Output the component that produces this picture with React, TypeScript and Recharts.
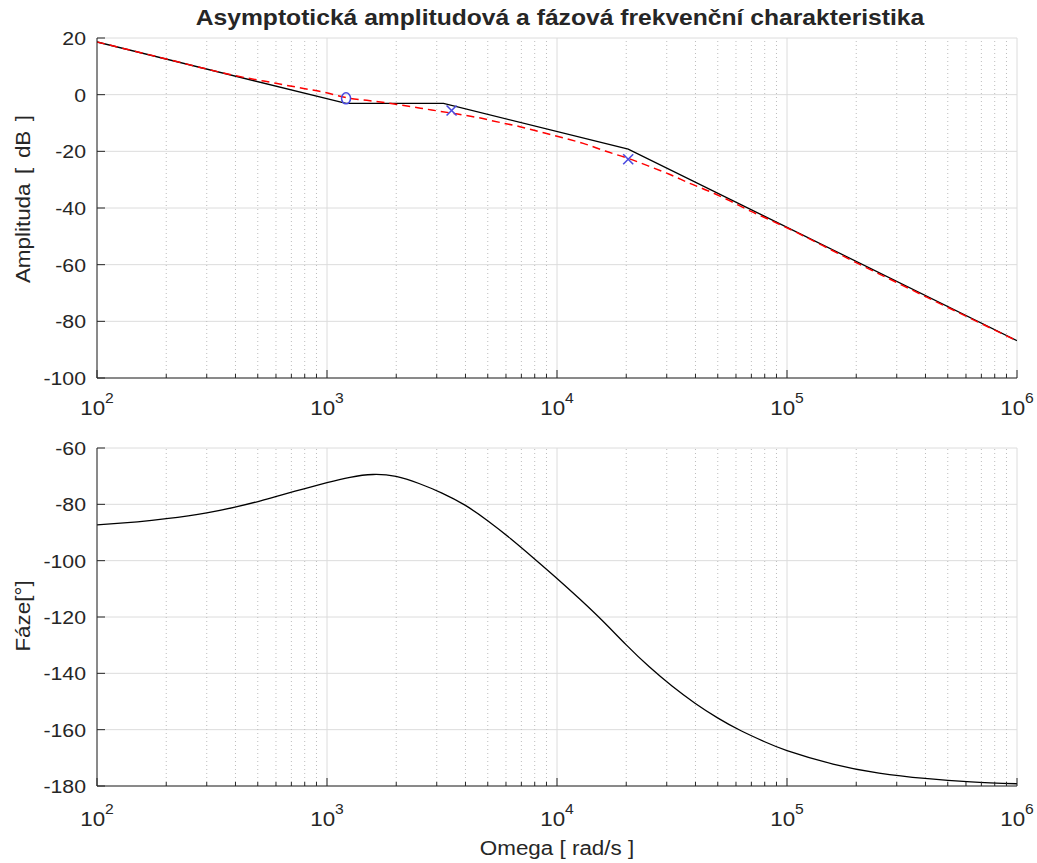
import React from 'react';
import {
    ComposedChart, Line, XAxis, YAxis, CartesianGrid, ReferenceLine,
} from 'recharts';

// omega axis: decades carry labels, the 2..9 multiples are minor ticks
const decades = [1e2, 1e3, 1e4, 1e5, 1e6];
const minorTicks = [1e2, 1e3, 1e4, 1e5].flatMap((d) => [2, 3, 4, 5, 6, 7, 8, 9].map((k) => k * d));
const omegaTicks = [...decades, ...minorTicks].sort((a, b) => a - b);

const ampTicks = [-100, -80, -60, -40, -20, 0, 20];
const phaseTicks = [-180, -160, -140, -120, -100, -80, -60];

// asymptotic magnitude (break points)
const asymOmega = [100, 1210, 3210, 20400, 1000000];
const asymDb = [18.6, -3.1, -3.1, -19.2, -86.8];

// exact magnitude
const exactOmega = [100, 200, 400, 600, 790, 965, 1220, 1490, 1820, 2300, 2850, 3540, 4470, 5650, 6900, 8430,
    10600, 13000, 16200, 20400, 25400, 31000, 37800, 46200, 56500, 69000, 84300, 103000, 149000, 188000, 316000, 1000000];
const exactDb = [18.6, 12.6, 6.7, 4.0, 2.2, 0.9, -1.1, -2.0, -2.9, -4.2, -5.4, -6.6, -8.0, -9.8, -11.3, -13.1,
    -15.2, -17.2, -19.9, -22.5, -25.4, -28.2, -31.3, -34.2, -37.5, -41.0, -44.2, -47.5, -54.0, -58.2, -67.2, -86.9];

// zero (o) and poles (x)
const zeroOmega = [1210];
const zeroDb = [-1.3];
const poleOmega = [3480, 20400];
const poleDb = [-5.6, -22.8];

// phase
const phaseOmega = [100, 150, 200, 300, 398, 501, 631, 794, 1000, 1259, 1585, 1995, 2512, 3162, 3981, 5012, 6310, 7943,
    10000, 12589, 15849, 19953, 25119, 31623, 39811, 50119, 63096, 79433, 100000, 158489, 251189, 398107, 630957, 1000000];
const phaseDeg = [-87.3, -86.2, -85.1, -83.0, -81.0, -79.0, -76.7, -74.5, -72.3, -70.4, -69.4, -70.1, -72.6, -76.0, -80.3, -85.9, -92.3, -99.2,
    -106.3, -113.7, -121.5, -129.8, -137.6, -144.5, -150.6, -155.9, -160.4, -164.2, -167.4, -172.2, -175.4, -177.3, -178.5, -179.2];

const zip = (w: number[], v: number[]) => w.map((x, i) => ({ w: x, v: v[i] }));

const FONT = '"Liberation Sans", Arial, sans-serif';
const INK = '#262626';
const MAJOR_GRID = '#dcdcdc';
const MINOR_GRID = '#bdbdbd';
const STRETCH = 1.12;

const isDecade = (v: number) => decades.includes(v);

const BottomTick = (labelDy: number) => (props: any) => {
    const { x, y, payload } = props;
    const v = payload.value;
    const major = isDecade(v);
    return (
        <g>
            <line x1={x} x2={x} y1={y} y2={y - (major ? 8 : 4)} stroke={INK} />
            {major && (
                <text transform={`translate(${x},${y + labelDy}) scale(${STRETCH},1)`} textAnchor="middle"
                    fill={INK} fontSize={20} fontFamily={FONT}>
                    10<tspan dy={-12} fontSize={14}>{Math.round(Math.log10(v))}</tspan>
                </text>
            )}
        </g>
    );
};

const TopTick = (props: any) => {
    const { x, y, payload } = props;
    const len = isDecade(payload.value) ? 8 : 4;
    return <line x1={x} x2={x} y1={y} y2={y + len} stroke={INK} />;
};

const LeftTick = (props: any) => {
    const { x, y, payload } = props;
    return (
        <g>
            <line x1={x} x2={x + 8} y1={y} y2={y} stroke={INK} />
            <text transform={`translate(${x - 11},${y + 7}) scale(${STRETCH},1)`} textAnchor="end" fill={INK}
                fontSize={19} fontFamily={FONT}>{payload.value}</text>
        </g>
    );
};

const RightTick = (props: any) => {
    const { x, y } = props;
    return <line x1={x} x2={x - 8} y1={y} y2={y} stroke={INK} />;
};

const Circle = (props: any) => {
    const { cx, cy } = props;
    if (cx == null || cy == null) return null;
    return <ellipse cx={cx} cy={cy} rx={4.5} ry={5.5} fill="none" stroke="#4a4ae0" strokeWidth={1.5} />;
};

const Cross = (props: any) => {
    const { cx, cy } = props;
    if (cx == null || cy == null) return null;
    const r = 5;
    return (
        <g stroke="#4a4ae0" strokeWidth={1.6}>
            <line x1={cx - r} y1={cy - r} x2={cx + r} y2={cy + r} />
            <line x1={cx - r} y1={cy + r} x2={cx + r} y2={cy - r} />
        </g>
    );
};

const omegaGrid = omegaTicks.map((v) => (
    <ReferenceLine key={v} x={v} stroke={isDecade(v) ? MAJOR_GRID : MINOR_GRID}
        strokeDasharray={isDecade(v) ? undefined : '1 3'} strokeWidth={1} />
));

const axesFor = (ticks: number[], domain: [number, number], xHeight: number, labelDy: number) => [
    <XAxis key="xb" dataKey="w" type="number" scale="log" domain={[100, 1e6]} ticks={omegaTicks} interval={0}
        allowDataOverflow height={xHeight} tickSize={0} tickMargin={0} tickLine={false}
        axisLine={{ stroke: INK }} tick={BottomTick(labelDy)} />,
    <XAxis key="xt" xAxisId="top" orientation="top" dataKey="w" type="number" scale="log" domain={[100, 1e6]}
        ticks={omegaTicks} interval={0} allowDataOverflow height={0} tickSize={0} tickMargin={0}
        tickLine={false} axisLine={{ stroke: INK }} tick={TopTick} />,
    <YAxis key="yl" type="number" domain={domain} ticks={ticks} interval={0} allowDataOverflow width={97}
        tickSize={0} tickMargin={0} tickLine={false} axisLine={{ stroke: INK }} tick={LeftTick} />,
    <YAxis key="yr" yAxisId="r" orientation="right" type="number" domain={domain} ticks={ticks} interval={0}
        allowDataOverflow width={0} tickSize={0} tickMargin={0} tickLine={false} axisLine={{ stroke: INK }}
        tick={RightTick} />,
];

const label: React.CSSProperties = {
    position: 'absolute', fontFamily: FONT, color: INK, fontSize: 20, whiteSpace: 'nowrap',
};

export default function App() {
    return (
        <div style={{ position: 'absolute', left: 0, top: 0, width: 1037, height: 863, background: '#fff' }}>
            <div style={{ ...label, left: 560, top: 18, fontWeight: 'bold', fontSize: 22,
                transform: `translate(-50%, -50%) scale(${STRETCH}, 1)` }}>
                Asymptotická amplitudová a fázová frekvenční charakteristika
            </div>
            <div style={{ ...label, left: 23, top: 199, wordSpacing: 3,
                transform: `translate(-50%, -50%) rotate(-90deg) scale(${STRETCH}, 1)` }}>
                Amplituda [ dB ]
            </div>
            <div style={{ ...label, left: 23, top: 616,
                transform: `translate(-50%, -50%) rotate(-90deg) scale(${STRETCH}, 1)` }}>
                Fáze[°]
            </div>
            <div style={{ ...label, left: 557, top: 848, transform: `translate(-50%, -50%) scale(${STRETCH}, 1)` }}>
                Omega [ rad/s ]
            </div>

            <div style={{ position: 'absolute', left: 0, top: 0 }}>
                <ComposedChart width={1037} height={420} margin={{ top: 38, right: 20, bottom: 0, left: 0 }}>
                    <CartesianGrid vertical={false} stroke={MAJOR_GRID} />
                    {omegaGrid}
                    {axesFor(ampTicks, [-100, 20], 42, 37)}
                    <Line data={zip(asymOmega, asymDb)} dataKey="v" type="linear" stroke="#000" strokeWidth={1.3}
                        dot={false} isAnimationActive={false} />
                    <Line data={zip(exactOmega, exactDb)} dataKey="v" type="monotone" stroke="#ff0000" strokeWidth={1.5}
                        strokeDasharray="8 5" dot={false} isAnimationActive={false} />
                    <Line data={zip(zeroOmega, zeroDb)} dataKey="v" stroke="none" dot={Circle}
                        isAnimationActive={false} />
                    <Line data={zip(poleOmega, poleDb)} dataKey="v" stroke="none" dot={Cross}
                        isAnimationActive={false} />
                </ComposedChart>
            </div>

            <div style={{ position: 'absolute', left: 0, top: 420 }}>
                <ComposedChart width={1037} height={420} margin={{ top: 28, right: 20, bottom: 0, left: 0 }}>
                    <CartesianGrid vertical={false} stroke={MAJOR_GRID} />
                    {omegaGrid}
                    {axesFor(phaseTicks, [-180, -60], 54, 40)}
                    <Line data={zip(phaseOmega, phaseDeg)} dataKey="v" type="natural" stroke="#000" strokeWidth={1.3}
                        dot={false} isAnimationActive={false} />
                </ComposedChart>
            </div>
        </div>
    );
}
